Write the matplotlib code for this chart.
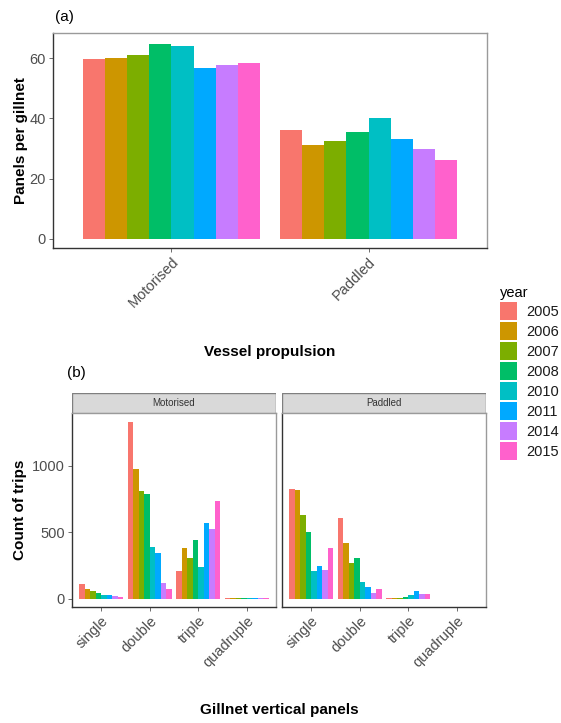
import matplotlib
matplotlib.use("Agg")
import matplotlib.pyplot as plt
from matplotlib.patches import Patch, Rectangle
import numpy as np

plt.rcParams['font.family'] = ['Liberation Sans', 'DejaVu Sans']

# ---- data ----
years = ["2005", "2006", "2007", "2008", "2010", "2011", "2014", "2015"]
colors = ["#F8766D", "#CD9600", "#7CAE00", "#00BE67",
          "#00BFC4", "#00A9FF", "#C77CFF", "#FF61CC"]

propulsion = ["Motorised", "Paddled"]
panels_motorised = [59.8, 59.9, 61.1, 64.8, 63.9, 56.8, 57.6, 58.4]
panels_paddled = [36.0, 31.0, 32.6, 35.5, 40.1, 33.2, 29.9, 26.2]

vertical = ["single", "double", "triple", "quadruple"]
# trips per year for each vertical-panel category (rows: years)
trips_motorised = {
    "single":    [110, 70, 60, 45, 30, 25, 18, 12],
    "double":    [1331, 975, 812, 784, 391, 341, 115, 73],
    "triple":    [205, 381, 303, 444, 241, 569, 526, 734],
    "quadruple": [4, 4, 4, 4, 4, 4, 5, 4],
}
trips_paddled = {
    "single":    [822, 817, 629, 499, 205, 248, 216, 383],
    "double":    [609, 419, 271, 303, 125, 88, 43, 75],
    "triple":    [2, 4, 8, 12, 25, 60, 35, 33],
    "quadruple": [0, 0, 0, 0, 0, 0, 0, 0],
}

W, H = 561, 723
fig = plt.figure(figsize=(W / 100, H / 100), dpi=100)


def px_axes(x0, y0, x1, y1):
    return fig.add_axes([x0 / W, 1 - y1 / H, (x1 - x0) / W, (y1 - y0) / H])


TICK_COL = "#4D4D4D"
DARK = "#333333"
BORDER = "#9A9A9A"


def style(ax, show_y=True):
    for s in ["top", "right"]:
        ax.spines[s].set_color(BORDER)
        ax.spines[s].set_linewidth(1.0)
    for s in ["left", "bottom"]:
        ax.spines[s].set_color(DARK)
        ax.spines[s].set_linewidth(1.0)
    ax.tick_params(axis="both", colors="#555555", labelcolor=TICK_COL,
                   length=3, width=0.6, labelsize=10.5, pad=2)
    if not show_y:
        ax.set_yticklabels([])


n = len(years)
group_w = 0.9
bw = group_w / n
offsets = (np.arange(n) - (n - 1) / 2) * bw

# ---- panel (a) ----
ax_a = px_axes(53, 33, 487, 248)
xpos = np.arange(1, len(propulsion) + 1)
for i in range(n):
    vals = [panels_motorised[i], panels_paddled[i]]
    ax_a.bar(xpos + offsets[i], vals, width=bw, color=colors[i], linewidth=0)
ax_a.set_xlim(0.4, 2.6)
ax_a.set_ylim(-3.0, 68.3)
ax_a.set_yticks([0, 20, 40, 60])
ax_a.set_xticks(xpos)
ax_a.set_xticklabels(propulsion, rotation=45, ha="right", va="top",
                     rotation_mode="anchor")
style(ax_a)
ax_a.set_ylabel("Panels per gillnet", fontsize=11, fontweight="bold")
ax_a.yaxis.set_label_coords((28 - 53) / 434, 0.5)
fig.text(270 / W, 1 - 352 / H, "Vessel propulsion", fontsize=11,
         fontweight="bold", ha="center", va="center")
fig.text(55 / W, 1 - 17 / H, "(a)", fontsize=11, ha="left", va="center")

# ---- panel (b) ----
facets = [("Motorised", trips_motorised, 72, 276),
          ("Paddled", trips_paddled, 282, 486)]
cat_pos = np.arange(1, len(vertical) + 1)
axes_b = []
for k, (name, data, x0, x1) in enumerate(facets):
    ax = px_axes(x0, 413, x1, 607)
    for i in range(n):
        vals = [data[c][i] for c in vertical]
        ax.bar(cat_pos + offsets[i], vals, width=bw, color=colors[i], linewidth=0)
    ax.set_xlim(0.4, 4.6)
    ax.set_ylim(-62, 1396)
    ax.set_yticks([0, 500, 1000])
    ax.set_xticks(cat_pos)
    ax.set_xticklabels(vertical, rotation=45, ha="right", va="top",
                       rotation_mode="anchor")
    style(ax, show_y=(k == 0))
    if k > 0:
        ax.tick_params(axis="y", length=0)
    # facet strip
    sax = px_axes(x0, 393, x1, 413)
    sax.set_xlim(0, 1)
    sax.set_ylim(0, 1)
    sax.add_patch(Rectangle((0, 0), 1, 1, facecolor="#D9D9D9",
                            edgecolor="#7F7F7F", linewidth=1.0,
                            transform=sax.transAxes))
    sax.text(0.5, 0.5, name, ha="center", va="center", fontsize=7,
             color="#333333")
    sax.axis("off")
    axes_b.append(ax)

axes_b[0].set_ylabel("Count of trips", fontsize=11, fontweight="bold")
axes_b[0].yaxis.set_label_coords((27 - 72) / 204, 0.5)
fig.text(279 / W, 1 - 710 / H, "Gillnet vertical panels", fontsize=11,
         fontweight="bold", ha="center", va="center")
fig.text(67 / W, 1 - 373 / H, "(b)", fontsize=11, ha="left", va="center")

# ---- legend ----
handles = [Patch(facecolor=c, edgecolor="none") for c in colors]
leg = fig.legend(handles, years, title="year", loc="upper left",
                 bbox_to_anchor=(490 / W, 1 - 276 / H), frameon=False,
                 fontsize=10.5, title_fontsize=10.5, handlelength=1.16,
                 handleheight=1.52, labelspacing=0.137, handletextpad=0.6,
                 borderpad=0.2, alignment="left")
for t in leg.get_texts():
    t.set_color("#1A1A1A")

fig.savefig("out.png", dpi=100)
